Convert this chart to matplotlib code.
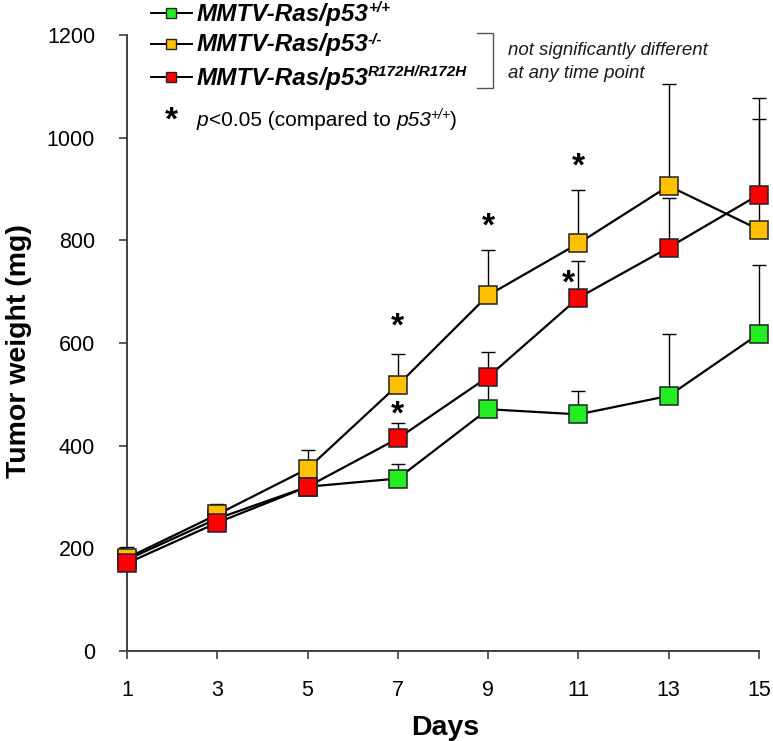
import matplotlib
matplotlib.use('Agg')
import matplotlib.pyplot as plt
from matplotlib.lines import Line2D
from matplotlib.transforms import IdentityTransform

plt.rcParams['font.family'] = ['Liberation Sans', 'DejaVu Sans']

# Datos
days = [1, 3, 5, 7, 9, 11, 13, 15]

wt_mean = [178, 258, 320, 336, 471, 461, 497, 618]
wt_err = [10, 12, 15, 28, 54, 46, 121, 134]

null_mean = [181, 266, 355, 518, 693, 794, 906, 821]
null_err = [22, 20, 36, 60, 89, 104, 198, 216]

mut_mean = [171, 250, 320, 414, 534, 688, 786, 889]
mut_err = [12, 10, 12, 31, 48, 72, 96, 188]

# asteriscos de significancia (dia, altura en mg)
star_days = [7, 7, 9, 11, 10.77]
star_vals = [631, 459, 826, 943, 715]

y_ticks = [0, 200, 400, 600, 800, 1000, 1200]

W, H = 773, 741
fig = plt.figure(figsize=(W / 100, H / 100), dpi=100)
ax = fig.add_axes([127 / W, 1 - 651 / H, 632 / W, 616 / H])

series = [
    (wt_mean, wt_err, '#22EE22', 3),
    (null_mean, null_err, '#FFC000', 4),
    (mut_mean, mut_err, '#FF0000', 5),
]
for mean, err, color, z in series:
    eb = ax.errorbar(days, mean, yerr=[[0] * len(err), err], fmt='none',
                     ecolor='black', elinewidth=1.0, capsize=5, capthick=1.0, zorder=z)
    for artist in list(eb.lines[1]) + list(eb.lines[2]):
        artist.set_clip_on(False)
    ax.plot(days, mean, color='black', linewidth=1.6, marker='s', markersize=12.5,
            markerfacecolor=color, markeredgecolor='#222222', markeredgewidth=1.1,
            zorder=z, clip_on=False)

for d, v in zip(star_days, star_vals):
    ax.text(d, v, '*', fontsize=24, fontweight='bold', ha='center', va='center', zorder=6)

ax.set_xlim(1, 15)
ax.set_ylim(0, 1200)
ax.set_xticks(days)
ax.set_yticks(y_ticks)
ax.tick_params(axis='both', labelsize=15.5, color='#404040', length=6, width=1.2)
ax.tick_params(axis='y', pad=17)
ax.tick_params(axis='x', pad=15)
for s in ['top', 'right']:
    ax.spines[s].set_visible(False)
for s in ['left', 'bottom']:
    ax.spines[s].set_color('#404040')
    ax.spines[s].set_linewidth(1.4)

idt = IdentityTransform()

# titulos de ejes
fig.text(19, H - 351, 'Tumor weight (mg)', transform=idt, fontsize=20.5, fontweight='bold',
         rotation=90, ha='center', va='center')
fig.text(445, H - 735, 'Days', transform=idt, fontsize=20.5, fontweight='bold',
         ha='center', va='baseline')

# Leyenda dibujada a mano (coordenadas en pixeles, y desde arriba)
renderer = fig.canvas.get_renderer()


def rich(x, y, parts):
    """Dibuja trozos de texto uno tras otro sobre la misma linea base"""
    for txt, size, style, weight, dy, dx in parts:
        x += dx
        t = fig.text(x, H - y + dy, txt, transform=idt, fontsize=size, fontstyle=style,
                     fontweight=weight, va='baseline', ha='left')
        x += t.get_window_extent(renderer).width
    return x


legend_rows = [
    ('#22EE22', '+/+', 20.5),
    ('#FFC000', '-/-', 51.5),
    ('#FF0000', 'R172H/R172H', 84.5),
]
for color, sup, base in legend_rows:
    yc = H - (base - 8)
    fig.add_artist(Line2D([151, 192], [yc, yc], transform=idt, color='black', linewidth=1.4))
    fig.add_artist(Line2D([171], [yc], transform=idt, marker='s', markersize=7,
                          markerfacecolor=color, markeredgecolor='#222222',
                          markeredgewidth=1.0))
    rich(197, base, [('MMTV-Ras/p53', 17.5, 'italic', 'bold', 0, 0),
                     (sup, 11, 'italic', 'bold', 8, -1)])

# corchete
fig.add_artist(Line2D([477, 493, 493, 477], [H - 33, H - 33, H - 88, H - 88],
                      transform=idt, color='#555555', linewidth=1.0))
fig.text(508, H - 55, 'not significantly different', transform=idt, fontsize=13.4,
         fontstyle='italic', va='baseline', color='#1a1a1a')
fig.text(508, H - 77.5, 'at any time point', transform=idt, fontsize=13.4,
         fontstyle='italic', va='baseline', color='#1a1a1a')

fig.text(171, H - 121, '*', transform=idt, fontsize=24, fontweight='bold',
         ha='center', va='center')
rich(197, 126, [('p', 15, 'italic', 'normal', 0, 0),
                ('<0.05 (compared to ', 15, 'normal', 'normal', 0, 0),
                ('p53', 15, 'italic', 'normal', 0, 0),
                ('+/+', 10, 'italic', 'normal', 7, -1),
                (')', 15, 'normal', 'normal', 0, 0)])

plt.savefig('out.png', dpi=100)
plt.close()
